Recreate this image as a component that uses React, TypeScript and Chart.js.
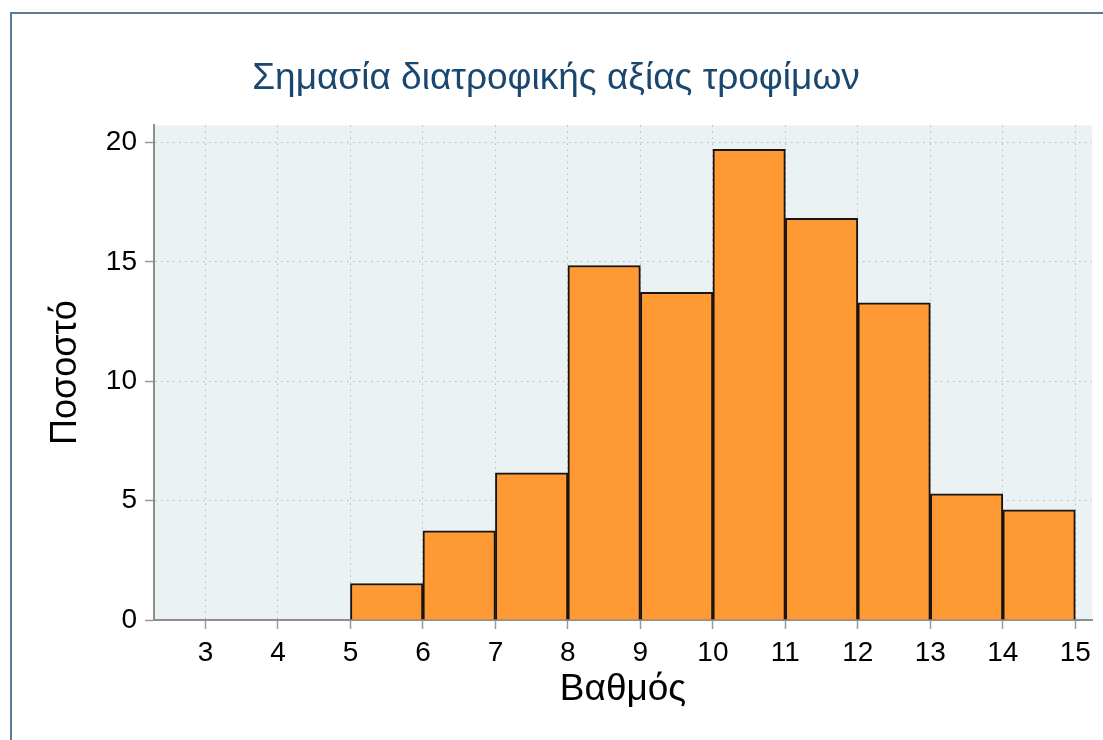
import React, { useEffect, useRef } from 'react';
import { Chart, registerables } from 'chart.js';

Chart.register(...registerables);

// ---- data ----
const binStarts = [5, 6, 7, 8, 9, 10, 11, 12, 13, 14];
const percents = [1.53, 3.74, 6.17, 14.85, 13.73, 19.72, 16.83, 13.29, 5.29, 4.62];
const xTickValues = [3, 4, 5, 6, 7, 8, 9, 10, 11, 12, 13, 14, 15];
const yTickValues = [0, 5, 10, 15, 20];
const chartTitle = 'Σημασία διατροφικής αξίας τροφίμων';
const xAxisTitle = 'Βαθμός';
const yAxisTitle = 'Ποσοστό';

const FONT = "'Liberation Sans', Arial, Helvetica, sans-serif";

const plotBg = {
  id: 'plotBg',
  beforeDraw(chart: any) {
    const { ctx, chartArea } = chart;
    if (!chartArea) return;
    ctx.save();
    ctx.fillStyle = '#eaf2f3';
    ctx.fillRect(chartArea.left, chartArea.top, chartArea.right - chartArea.left, chartArea.bottom - chartArea.top);
    ctx.restore();
  },
};

export default function App() {
  const ref = useRef<HTMLCanvasElement | null>(null);

  useEffect(() => {
    document.body.style.margin = '0';
    document.body.style.overflow = 'hidden';
    if (!ref.current) return;
    const chart = new Chart(ref.current, {
      type: 'bar',
      data: {
        datasets: [
          {
            data: binStarts.map((s, i) => ({ x: s + 0.5, y: percents[i] })),
            backgroundColor: '#ff9933',
            borderColor: '#1a1410',
            borderWidth: 2,
            barPercentage: 1,
            categoryPercentage: 1,
          },
        ],
      },
      options: {
        animation: false,
        responsive: true,
        maintainAspectRatio: false,
        layout: { padding: { left: 20, right: 11, top: 0, bottom: 0 } },
        plugins: {
          legend: { display: false },
          tooltip: { enabled: false },
          title: {
            display: true,
            text: chartTitle,
            color: '#1a476f',
            font: { family: FONT, size: 37, weight: 'normal' },
            padding: { top: 57, bottom: 24 },
          },
        },
        scales: {
          x: {
            type: 'linear',
            min: 2.29,
            max: 15.23,
            offset: false,
            afterBuildTicks: (s: any) => {
              s.ticks = xTickValues.map((v) => ({ value: v }));
            },
            afterFit: (s: any) => {
              s.height = 120;
            },
            grid: {
              offset: false,
              color: '#b8b8b8',
              lineWidth: 1,
              drawTicks: true,
              tickLength: 9,
              tickColor: '#9a9a9a',
              tickWidth: 1.5,
              tickBorderDash: [],
            },
            border: { display: true, color: '#8f8f8f', width: 2, dash: [1.5, 4.5] },
            ticks: {
              color: '#000',
              font: { family: FONT, size: 28 },
              padding: 7,
              maxRotation: 0,
              autoSkip: false,
              callback: (v: any) => String(v),
            },
            title: {
              display: true,
              text: xAxisTitle,
              color: '#000',
              font: { family: FONT, size: 37 },
              padding: { top: 0, bottom: 28 },
            },
          },
          y: {
            min: 0,
            max: 20.72,
            afterBuildTicks: (s: any) => {
              s.ticks = yTickValues.map((v) => ({ value: v }));
            },
            afterFit: (s: any) => {
              s.width = 134;
            },
            grid: {
              color: '#b8b8b8',
              lineWidth: 1,
              drawTicks: true,
              tickLength: 9,
              tickColor: '#9a9a9a',
              tickWidth: 1.5,
              tickBorderDash: [],
            },
            border: { display: true, color: '#8f8f8f', width: 2, dash: [1.5, 4.5] },
            ticks: {
              color: '#000',
              font: { family: FONT, size: 28 },
              padding: 8,
              callback: (v: any) => String(v),
            },
            title: {
              display: true,
              text: yAxisTitle,
              color: '#000',
              font: { family: FONT, size: 36 },
              padding: { top: 24, bottom: 0 },
            },
          },
        },
      },
      plugins: [plotBg],
    } as any);
    return () => chart.destroy();
  }, []);

  return (
    <div style={{ position: 'relative', width: 1103, height: 740, overflow: 'hidden', background: '#fff' }}>
      <div
        style={{
          position: 'absolute',
          left: 10,
          top: 12,
          width: 1200,
          height: 800,
          borderTop: '2px solid #5b7b99',
          borderLeft: '2px solid #5b7b99',
        }}
      />
      <div style={{ position: 'absolute', left: 0, top: 0, width: 1103, height: 740 }}>
        <canvas ref={ref} />
      </div>
    </div>
  );
}
